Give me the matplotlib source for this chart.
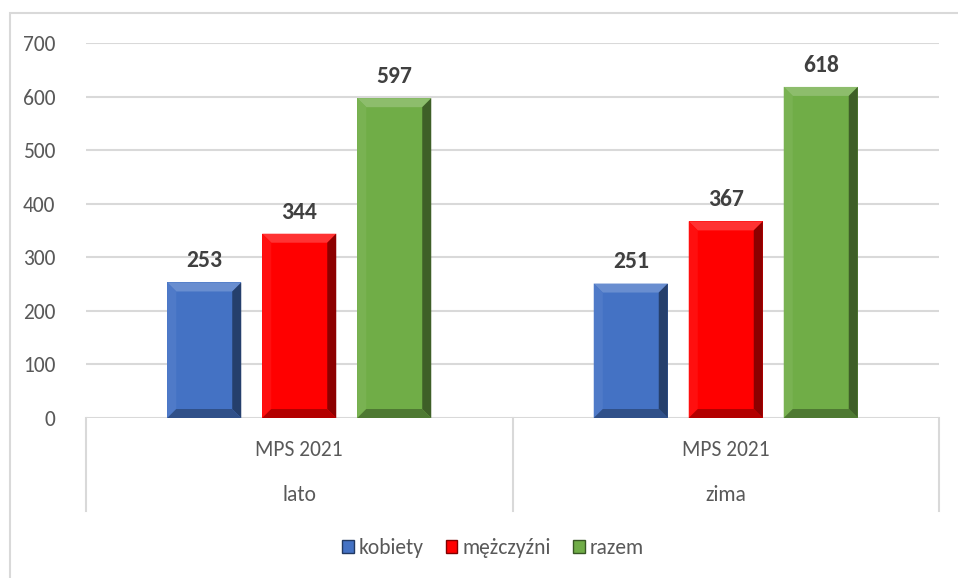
import numpy as np
import matplotlib
matplotlib.use("Agg")
import matplotlib.pyplot as plt
from matplotlib.patches import Polygon, Rectangle, Patch
from matplotlib import colors as mcolors

plt.rcParams['font.family'] = ['Carlito', 'Liberation Sans Narrow', 'DejaVu Sans']

# dane
okresy = ["lato", "zima"]
badanie = ["MPS 2021", "MPS 2021"]
serie = ["kobiety", "mężczyźni", "razem"]
kobiety = [253, 251]
mezczyzni = [344, 367]
razem = [597, 618]
kolory = ["#4472C4", "#FF0000", "#70AD47"]

W, H = 958, 578
fig = plt.figure(figsize=(W / 100, H / 100), dpi=100)
ax = fig.add_axes([86 / W, 1 - 418 / H, (939 - 86) / W, (418 - 43) / H])

ax.set_xlim(-0.5, 1.5)
ax.set_ylim(0, 700)

# rozmiar skosu (w px -> jednostki danych)
ax_w_px = (939 - 86)
ax_h_px = (418 - 43)
bev = 9
bx = bev * 2.0 / ax_w_px
by = bev * 700.0 / ax_h_px


def shade(c, f):
    r, g, b = mcolors.to_rgb(c)
    if f >= 1:
        return (r + (1 - r) * (f - 1), g + (1 - g) * (f - 1), b + (1 - b) * (f - 1))
    return (r * f, g * f, b * f)


def bar_3d(x, h, w, c):
    x0, x1, y0, y1 = x - w / 2, x + w / 2, 0, h
    ax.bar(x, h, w, color=c, zorder=3)
    parts = [
        ([(x0, y1), (x1, y1), (x1 - bx, y1 - by), (x0 + bx, y1 - by)], shade(c, 1.2)),
        ([(x0, y0), (x0, y1), (x0 + bx, y1 - by), (x0 + bx, y0 + by)], shade(c, 1.06)),
        ([(x1, y1), (x1, y0), (x1 - bx, y0 + by), (x1 - bx, y1 - by)], shade(c, 0.55)),
        ([(x0, y0), (x1, y0), (x1 - bx, y0 + by), (x0 + bx, y0 + by)], shade(c, 0.7)),
    ]
    for pts, col in parts:
        ax.add_patch(Polygon(pts, closed=True, facecolor=col, edgecolor='none', zorder=4))


x = np.arange(len(okresy))
krok = 95 / ax_w_px * 2
szer = 74 / ax_w_px * 2
for i, (vals, c) in enumerate(zip([kobiety, mezczyzni, razem], kolory)):
    for xi, v in zip(x + (i - 1) * krok, vals):
        bar_3d(xi, v, szer, c)
        ax.annotate(str(v), (xi, v), xytext=(0, 8), textcoords='offset points',
                    ha='center', va='bottom', fontsize=17, fontweight='bold', color='#404040')

ax.set_yticks(range(0, 701, 100))
ax.yaxis.grid(True, color='#D9D9D9', linewidth=1.5, zorder=0)
ax.set_axisbelow(True)
ax.tick_params(axis='y', length=0, pad=22, labelsize=15.5, labelcolor='#595959')
ax.set_xticks([])
for s in ax.spines.values():
    s.set_visible(False)

# etykiety kategorii pod osia
trans = ax.get_xaxis_transform()
for xd in [-0.5, 0.5, 1.5]:
    ax.plot([xd, xd], [0, -93 / ax_h_px], transform=trans, color='#D9D9D9',
            linewidth=1.5, clip_on=False)
for xi, b, o in zip(x, badanie, okresy):
    ax.text(xi, -32 / ax_h_px, b, transform=trans, ha='center', va='center',
            fontsize=15.5, color='#595959')
    ax.text(xi, -77 / ax_h_px, o, transform=trans, ha='center', va='center',
            fontsize=15.5, color='#595959')

# legenda
uchwyty = [Patch(facecolor=c, edgecolor=shade(c, 0.5)) for c in kolory]
fig.legend(uchwyty, serie, loc='center', bbox_to_anchor=(493 / W, 1 - 548 / H),
           ncol=3, frameon=False, fontsize=15.5, labelcolor='#595959',
           handlelength=0.55, handleheight=0.55, handletextpad=0.25, columnspacing=1.0)

# ramka wykresu
fig.add_artist(Rectangle((10 / W, -0.5), 2, 1.5 - 13 / H, transform=fig.transFigure,
                         fill=False, edgecolor='#D9D9D9', linewidth=1.5))

fig.savefig("out.png", dpi=100)
